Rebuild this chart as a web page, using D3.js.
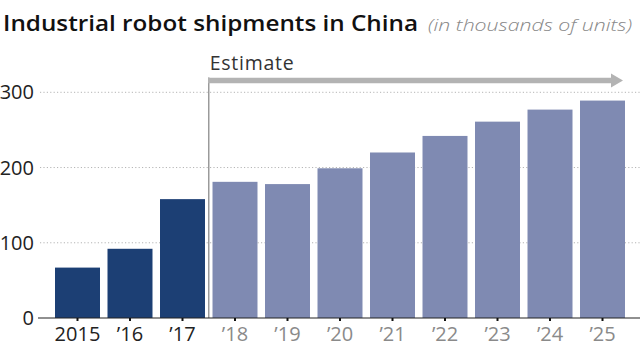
<!DOCTYPE html>
<html><head><meta charset="utf-8">
<script src="https://cdn.jsdelivr.net/npm/d3@7"></script>
<style>body{margin:0;background:#fff}svg{display:block}</style>
</head><body>
<script>
const categories = ["2015","\u201916","\u201917","\u201918","\u201919","\u201920","\u201921","\u201922","\u201923","\u201924","\u201925"];
const values = [67, 92, 158, 181, 178, 199, 220, 242, 261, 277, 289];
const isEstimate = [false,false,false,true,true,true,true,true,true,true,true];
const yTicks = [0, 100, 200, 300];
const title = "Industrial robot shipments in China";
const subtitle = "(in thousands of units)";
const estimateLabel = "Estimate";

const W = 640, H = 348;
const svg = d3.select("body").append("svg").attr("width", W).attr("height", H);
const font = "'Open Sans', 'Noto Sans', sans-serif";

const x = d3.scaleBand().domain(categories).range([55, 625]).paddingInner(0.143).paddingOuter(0);
const y = d3.scaleLinear().domain([0, 300]).range([318, 92.3]);

// title
svg.append("text").attr("x", 3).attr("y", 31).attr("font-family", font)
  .attr("font-size", 21.5).attr("font-weight", 600).attr("fill", "#111")
  .attr("textLength", 415).attr("lengthAdjust", "spacingAndGlyphs").text(title);
svg.append("text").attr("x", 428).attr("y", 31).attr("font-family", font)
  .attr("font-size", 17).attr("font-style", "italic").attr("font-weight", 300).attr("fill", "#888")
  .attr("textLength", 204).attr("lengthAdjust", "spacingAndGlyphs").text(subtitle);

// gridlines
svg.append("g").selectAll("line").data(yTicks.filter(d => d > 0)).join("line")
  .attr("x1", 40).attr("x2", W).attr("y1", d => y(d)).attr("y2", d => y(d))
  .attr("stroke", "#b5b5b5").attr("stroke-width", 1).attr("stroke-dasharray", "1.2,2.2");

// y labels
svg.append("g").selectAll("text").data(yTicks).join("text")
  .attr("x", 34).attr("y", d => y(d) + 7).attr("text-anchor", "end")
  .attr("font-family", font).attr("font-size", 20).attr("fill", "#222").text(d => d);

// bars
svg.append("g").selectAll("rect").data(values).join("rect")
  .attr("x", (d, i) => x(categories[i])).attr("width", x.bandwidth())
  .attr("y", d => y(d)).attr("height", d => y(0) - y(d))
  .attr("fill", (d, i) => isEstimate[i] ? "#7f8ab2" : "#1c3f74");

// estimate divider and arrow
const firstEst = categories[isEstimate.indexOf(true)];
const divX = x(firstEst) - x.step() * x.paddingInner() / 2;
svg.append("line").attr("x1", divX).attr("x2", divX).attr("y1", 77.5).attr("y2", y(0))
  .attr("stroke", "#9a9a9a").attr("stroke-width", 1.5);
const arrowEnd = x(categories[categories.length - 1]) + x.bandwidth() - 2;
svg.append("line").attr("x1", divX - 0.75).attr("x2", arrowEnd - 11).attr("y1", 80.5).attr("y2", 80.5)
  .attr("stroke", "#b3b3b3").attr("stroke-width", 5.5);
svg.append("path").attr("d", `M${arrowEnd - 12},73.5 L${arrowEnd},80.5 L${arrowEnd - 12},87.5 Z`).attr("fill", "#b3b3b3");
svg.append("text").attr("x", divX + 1).attr("y", 70).attr("font-family", font).attr("font-size", 19.5)
  .attr("fill", "#333").attr("textLength", 84).attr("lengthAdjust", "spacing").text(estimateLabel);

// x axis
svg.append("line").attr("x1", 38).attr("x2", W).attr("y1", y(0)).attr("y2", y(0))
  .attr("stroke", "#222").attr("stroke-width", 1.2);
const xAxis = svg.append("g").attr("transform", `translate(0,${y(0)})`)
  .call(d3.axisBottom(x).tickSize(3).tickPadding(6));
xAxis.select(".domain").remove();
xAxis.selectAll(".tick line").attr("stroke", "#111").attr("stroke-width", 2);
xAxis.selectAll(".tick text").attr("font-family", font).attr("font-size", 20)
  .attr("fill", (d, i) => isEstimate[i] ? "#8a8a8a" : "#222");
</script>
</body></html>
